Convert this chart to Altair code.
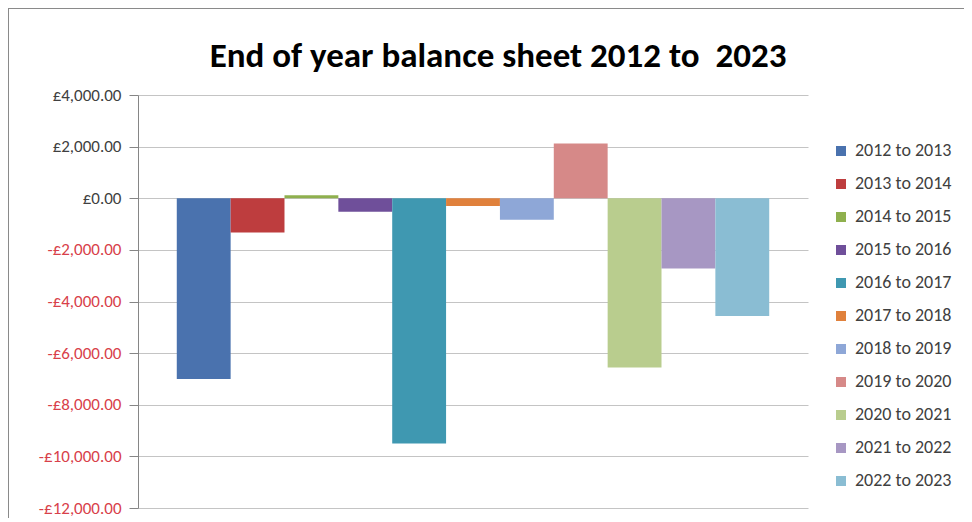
import altair as alt
import pandas as pd

periods = ["2012 to 2013", "2013 to 2014", "2014 to 2015", "2015 to 2016",
           "2016 to 2017", "2017 to 2018", "2018 to 2019", "2019 to 2020",
           "2020 to 2021", "2021 to 2022", "2022 to 2023"]
balances = [-7000, -1330, 120, -520, -9500, -300, -830, 2120, -6560, -2720, -4560]
colors = ["#4A72AE", "#BE3D3E", "#8FB04E", "#6F4F9A", "#3F98B1", "#E0813C",
          "#8EA7D7", "#D68988", "#B9CD8E", "#A797C3", "#8ABDD3"]
y_ticks = [4000, 2000, 0, -2000, -4000, -6000, -8000, -10000, -12000]
title_text = "End of year balance sheet 2012 to \u00a02023"

FONT = "Carlito, Lato, sans-serif"

df = pd.DataFrame({"period": periods, "balance": balances})
one = pd.DataFrame({"a": [0]})

bars = alt.Chart(df).mark_bar().encode(
    x=alt.X("period:N", sort=periods, axis=None,
            scale=alt.Scale(paddingInner=0, paddingOuter=0.72)),
    y=alt.Y("balance:Q",
            scale=alt.Scale(domain=[-12000, 4000], nice=False),
            axis=alt.Axis(values=y_ticks, title=None, grid=True,
                          gridColor="#c4c4c4", gridWidth=1,
                          domainColor="#868686", tickColor="#868686",
                          tickSize=9, labelPadding=8, labelFontSize=17,
                          labelFont=FONT,
                          labelColor={"condition": {"test": "datum.value < 0", "value": "#d8404a"},
                                      "value": "#404040"},
                          labelExpr="(datum.value < 0 ? '-' : '') + '£' + format(abs(datum.value), ',.2f')")),
    color=alt.Color("period:N", sort=periods,
                    scale=alt.Scale(domain=periods, range=colors),
                    legend=alt.Legend(title=None, orient="none", legendX=694, legendY=47,
                                      direction="vertical", symbolType="square",
                                      symbolSize=100, symbolStrokeWidth=0,
                                      rowPadding=15, labelFontSize=18, labelFont=FONT,
                                      labelColor="#404040", labelOffset=5)),
)

title_mark = alt.Chart(one).mark_text(
    text=title_text, font=FONT, fontSize=35, fontWeight="bold", color="#000000",
    align="center", baseline="middle").encode(x=alt.value(360), y=alt.value(-39))

left_border = alt.Chart(one).mark_rule(color="#8a8a8a", strokeWidth=1).encode(
    x=alt.value(-129.5), y=alt.value(-87), y2=alt.value(430))
top_border = alt.Chart(one).mark_rule(color="#8a8a8a", strokeWidth=1).encode(
    y=alt.value(-86.5), x=alt.value(-130), x2=alt.value(830))

chart = alt.layer(bars, title_mark, left_border, top_border).properties(
    width=670, height=413,
    autosize=alt.AutoSizeParams(type="none"),
    padding={"left": 130, "top": 87, "right": 156, "bottom": 10},
    background="white",
).configure_view(strokeWidth=0)

chart.save("out.html", embed_options={"renderer": "svg", "actions": False})
